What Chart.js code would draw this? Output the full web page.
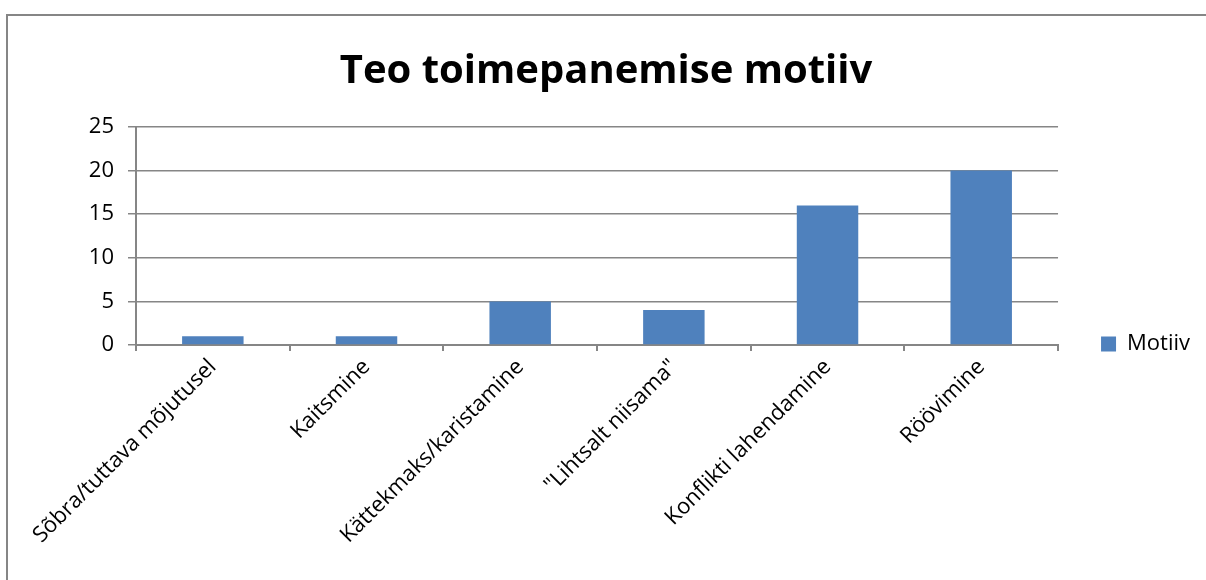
<!doctype html>
<html lang="et">
<head>
<meta charset="UTF-8">
<title>Teo toimepanemise motiiv</title>
<script src="https://cdn.jsdelivr.net/npm/chart.js@4/dist/chart.umd.min.js"></script>
<style>
  html, body { margin: 0; padding: 0; background: #fff; }
  #wrap { position: relative; width: 1206px; height: 580px; overflow: hidden; }
  #frame { position: absolute; left: 6px; top: 14px; width: 1220px; height: 600px;
           border-left: 2px solid #868686; border-top: 2px solid #868686; }
  #chart { position: absolute; left: 0; top: 0; }
</style>
</head>
<body>
<div id="wrap">
  <div id="frame"></div>
  <canvas id="chart" width="1206" height="580"></canvas>
</div>
<script>
var categories = ['Sõbra/tuttava mõjutusel', 'Kaitsmine', 'Kättekmaks/karistamine',
                  '"Lihtsalt niisama"', 'Konflikti lahendamine', 'Röövimine'];
var motiiv = [1, 1, 5, 4, 16, 20];
var yTicks = [0, 5, 10, 15, 20, 25];

var gray = '#868686';
var font = "'Open Sans', 'Liberation Sans', sans-serif";

var ctx = document.getElementById('chart').getContext('2d');
var chart = new Chart(ctx, {
  type: 'bar',
  data: {
    labels: categories,
    datasets: [{
      label: 'Motiiv',
      data: motiiv,
      backgroundColor: '#4F81BD',
      borderWidth: 0,
      categoryPercentage: 1,
      barPercentage: 0.4
    }]
  },
  options: {
    responsive: false,
    animation: false,
    layout: { padding: { left: 12, right: 6, top: 0, bottom: 0 } },
    plugins: {
      title: {
        display: true,
        text: 'Teo toimepanemise motiiv',
        color: '#000',
        font: { family: font, size: 40, weight: 'bold' },
        padding: { top: 48, bottom: 31 }
      },
      legend: {
        position: 'right',
        title: { display: true, text: ' ', font: { size: 10 }, padding: { top: 48, bottom: 48 } },
        labels: {
          color: '#000',
          font: { family: font, size: 22 },
          boxWidth: 15, boxHeight: 15,
          padding: 43
        }
      },
      tooltip: { enabled: false }
    },
    scales: {
      x: {
        grid: { display: true, drawOnChartArea: false, offset: true, color: gray, tickLength: 6, lineWidth: 2 },
        border: { color: gray, width: 2 },
        ticks: { color: '#000', font: { family: font, size: 22 }, maxRotation: 45, minRotation: 45, autoSkip: false },
        afterFit: function (s) { s.height = 235; }
      },
      y: {
        min: 0, max: 25,
        afterBuildTicks: function (s) { s.ticks = yTicks.map(function (v) { return { value: v }; }); },
        grid: { color: gray, lineWidth: 1.5, tickLength: 8 },
        border: { color: gray, width: 2 },
        ticks: { color: '#000', font: { family: font, size: 22 }, padding: 14 },
        afterFit: function (s) { s.width = 124; }
      }
    }
  }
});
</script>
</body>
</html>
